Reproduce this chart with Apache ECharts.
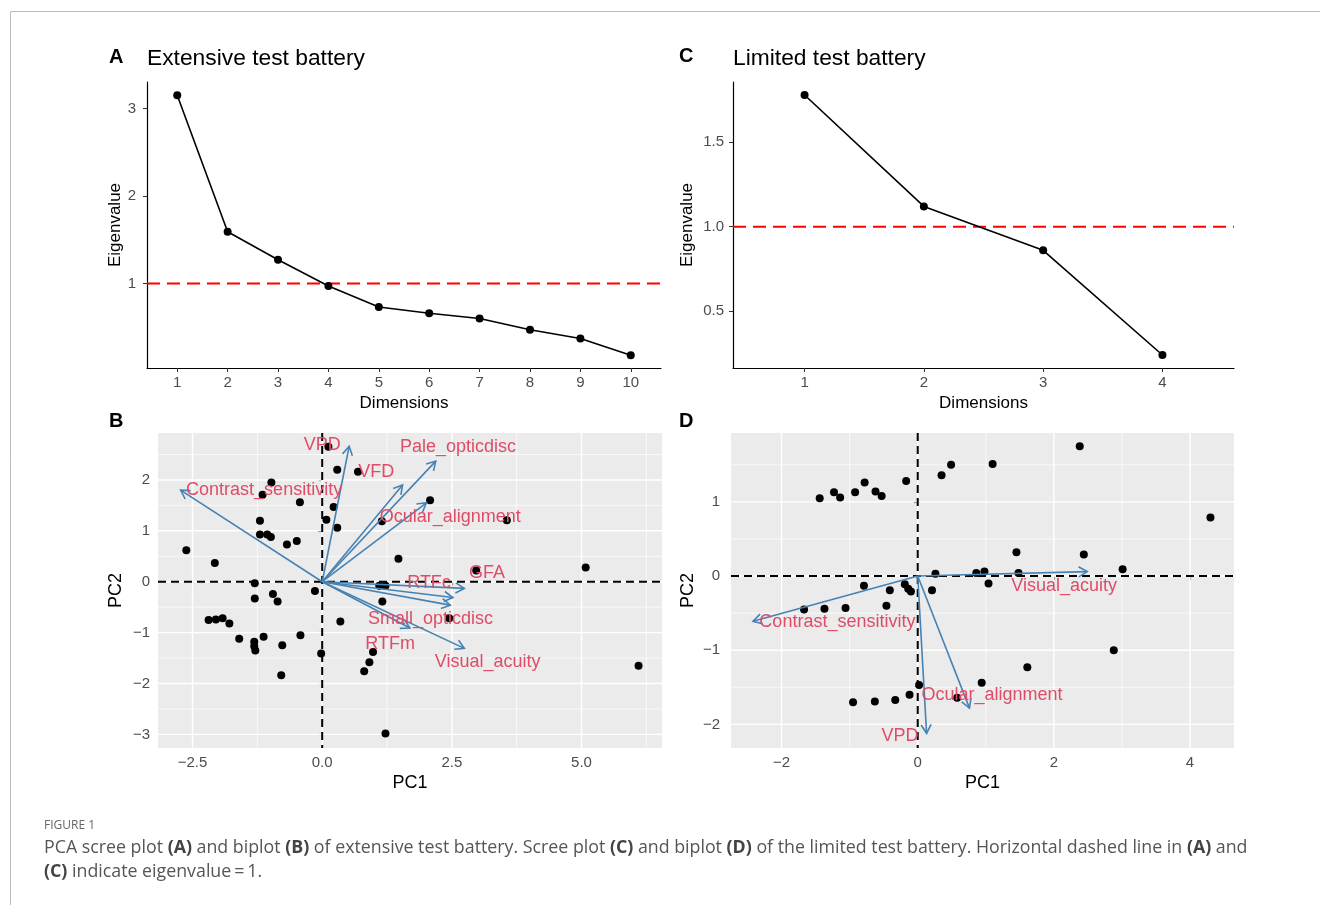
<!DOCTYPE html>
<html><head><meta charset="utf-8">
<script src="https://cdn.jsdelivr.net/npm/echarts@6/dist/echarts.min.js"></script>
<style>html,body{margin:0;padding:0;background:#fff}#c{width:1320px;height:905px}</style>
</head><body><div id="c"></div>
<script>
// ---------- Data ----------
const dimsA = [1,2,3,4,5,6,7,8,9,10];
const eigA  = [3.15,1.59,1.27,0.97,0.73,0.66,0.60,0.47,0.37,0.18];
const dimsC = [1,2,3,4];
const eigC  = [1.78,1.12,0.86,0.24];
const eigThreshold = 1;

const ticksAy = [1,2,3];
const ticksCy = [0.5,1.0,1.5];
const ticksBx = [-2.5,0,2.5,5];
const ticksBy = [-3,-2,-1,0,1,2];
const minorBx = [-1.25,1.25,3.75,6.25];
const minorBy = [-2.5,-1.5,-0.5,0.5,1.5,2.5];
const ticksDx = [-2,0,2,4];
const ticksDy = [-2,-1,0,1];
const minorDx = [-1,1,3];
const minorDy = [-1.5,-0.5,0.5,1.5];

// Biplot B individuals
const indBx = [0.12,0.29,0.69,-0.98,-1.15,-0.43,0.22,0.08,0.29,-1.20,-1.20,-1.06,-0.99,-0.68,-0.49,-2.62,-2.07,-1.30,-0.14,-0.95,-0.86,-1.30,-2.19,-2.05,-1.92,-1.79,-1.60,-1.31,-1.31,-1.29,-1.13,-0.42,-0.77,-0.79,0.35,-0.02,0.98,0.91,0.81,1.22,1.15,1.47,1.10,1.22,1.16,2.08,3.56,2.97,5.08,2.45,6.10];
const indBy = [2.65,2.20,2.16,1.95,1.71,1.56,1.47,1.22,1.06,1.20,0.93,0.93,0.88,0.73,0.80,0.62,0.37,-0.03,-0.18,-0.24,-0.39,-0.33,-0.75,-0.74,-0.72,-0.82,-1.12,-1.18,-1.27,-1.35,-1.08,-1.05,-1.25,-1.84,-0.78,-1.41,-1.38,-1.58,-1.76,-2.98,1.19,0.45,-0.08,-0.08,-0.39,1.60,1.21,0.22,0.28,-0.72,-1.65];
// Biplot B variables
const varB   = ['VPD','VFD','Pale_opticdisc','Ocular_alignment','Contrast_sensitivity','RTFc','GFA','Small_opticdisc','RTFm','Visual_acuity'];
const varBx  = [0.52,1.55,2.19,2.01,-2.73,2.74,2.52,2.47,1.69,2.74];
const varBy  = [2.66,1.90,2.37,1.55,1.80,-0.13,-0.31,-0.46,-0.91,-1.31];
const labBx  = [0.00,1.04,2.62,2.47,-1.12,2.06,3.18,2.09,1.31,3.19];
const labBy  = [2.68,2.15,2.64,1.27,1.80,-0.03,0.17,-0.73,-1.22,-1.58];

// Biplot D individuals
const indDx = [-1.44,-1.23,-1.14,-0.92,-0.78,-0.62,-0.53,-0.17,0.35,0.49,1.10,2.38,4.30,1.45,2.44,0.86,0.98,1.48,1.04,3.01,2.88,1.61,0.94,0.58,-1.67,-1.37,-1.06,-0.79,-0.41,-0.46,-0.19,-0.14,-0.10,0.21,0.26,-0.95,-0.63,-0.33,-0.12,0.02];
const indDy = [1.05,1.13,1.06,1.13,1.26,1.14,1.08,1.28,1.36,1.50,1.51,1.75,0.79,0.32,0.29,0.04,0.06,0.04,-0.10,0.09,-1.00,-1.23,-1.44,-1.64,-0.45,-0.44,-0.43,-0.13,-0.19,-0.40,-0.11,-0.17,-0.21,-0.19,0.03,-1.70,-1.69,-1.67,-1.60,-1.47];
// Biplot D variables
const varD  = ['Contrast_sensitivity','Visual_acuity','VPD','Ocular_alignment'];
const varDx = [-2.42,2.49,0.13,0.76];
const varDy = [-0.61,0.06,-2.12,-1.78];
const labDx = [-1.18,2.15,-0.26,1.09];
const labDy = [-0.62,-0.13,-2.15,-1.60];

// ---------- Helpers ----------
const FONT = 'Liberation Sans, Arial, sans-serif';
const LABEL_COL = '#DE4C68';
const ARROW_COL = '#4682B4';
const minus = s => String(s).replace('-', '\u2212');
const zip = (a,b) => a.map((v,i)=>[v,b[i]]);

function vLines(gi, vals, stroke, width, dash, z){
  return {type:'custom', xAxisIndex:gi, yAxisIndex:gi, z:z, silent:true, clip:false,
    data: vals.map(v=>[v,0]),
    renderItem:(p,api)=>{const cs=p.coordSys; const x=api.coord([api.value(0),0])[0];
      return {type:'line', shape:{x1:x,y1:cs.y,x2:x,y2:cs.y+cs.height}, style:{stroke, lineWidth:width, lineDash:dash||null}};}};
}
function hLines(gi, vals, stroke, width, dash, z){
  return {type:'custom', xAxisIndex:gi, yAxisIndex:gi, z:z, silent:true, clip:false,
    data: vals.map(v=>[0,v]),
    renderItem:(p,api)=>{const cs=p.coordSys; const y=api.coord([0,api.value(1)])[1];
      return {type:'line', shape:{x1:cs.x,y1:y,x2:cs.x+cs.width,y2:y}, style:{stroke, lineWidth:width, lineDash:dash||null}};}};
}
function arrows(gi, xs, ys){
  return {type:'custom', xAxisIndex:gi, yAxisIndex:gi, z:4, silent:true, clip:false,
    data: zip(xs,ys),
    renderItem:(p,api)=>{
      const p0=api.coord([0,0]); const p1=api.coord([api.value(0),api.value(1)]);
      const ang=Math.atan2(p1[1]-p0[1], p1[0]-p0[0]); const L=10, a=Math.PI/6;
      const h1=[p1[0]-L*Math.cos(ang-a), p1[1]-L*Math.sin(ang-a)];
      const h2=[p1[0]-L*Math.cos(ang+a), p1[1]-L*Math.sin(ang+a)];
      return {type:'group', children:[
        {type:'line', shape:{x1:p0[0],y1:p0[1],x2:p1[0],y2:p1[1]}, style:{stroke:ARROW_COL,lineWidth:1.6}},
        {type:'polyline', shape:{points:[h1,p1,h2]}, style:{stroke:ARROW_COL,lineWidth:1.6,fill:null}}]};
    }};
}
function labels(gi, xs, ys, names){
  return {type:'custom', xAxisIndex:gi, yAxisIndex:gi, z:5, silent:true, clip:false,
    data: zip(xs,ys),
    renderItem:(p,api)=>{const c=api.coord([api.value(0),api.value(1)]);
      return {type:'text', x:c[0], y:c[1], style:{text:names[p.dataIndex], fill:LABEL_COL, font:'18px '+FONT, align:'center', verticalAlign:'middle'}};}};
}
function points(gi, xs, ys, size){
  return {type:'scatter', xAxisIndex:gi, yAxisIndex:gi, z:3, data:zip(xs,ys), symbolSize:size,
    itemStyle:{color:'#000', opacity:1}, silent:true};
}

const screeX = (gi, min, max, ticks) => ({gridIndex:gi, type:'value', min, max,
  axisLine:{show:true, onZero:false, lineStyle:{color:'#000', width:1.2}},
  axisTick:{show:true, customValues:ticks, length:4, lineStyle:{color:'#333'}},
  axisLabel:{customValues:ticks, color:'#4D4D4D', fontSize:15, fontFamily:FONT, margin:7},
  splitLine:{show:false},
  name:'Dimensions', nameLocation:'middle', nameGap:27, nameTextStyle:{fontSize:17, color:'#000', fontFamily:FONT}});
const screeY = (gi, min, max, ticks, fmt, gap, margin) => ({gridIndex:gi, type:'value', min, max,
  axisLine:{show:true, onZero:false, lineStyle:{color:'#000', width:1.2}},
  axisTick:{show:true, customValues:ticks, length:4, lineStyle:{color:'#333'}},
  axisLabel:{customValues:ticks, color:'#4D4D4D', fontSize:15, fontFamily:FONT, margin, formatter:fmt},
  splitLine:{show:false},
  name:'Eigenvalue', nameLocation:'middle', nameGap:gap, nameTextStyle:{fontSize:17, color:'#000', fontFamily:FONT}});
const biAxis = (gi, min, max, ticks, fmt, name, gap, margin) => ({gridIndex:gi, type:'value', min, max,
  axisLine:{show:false},
  axisTick:{show:true, customValues:ticks, length:4, lineStyle:{color:'#333', width:1.1}},
  axisLabel:{customValues:ticks, color:'#4D4D4D', fontSize:15, fontFamily:FONT, margin, formatter:fmt},
  splitLine:{show:false},
  name, nameLocation:'middle', nameGap:gap, nameTextStyle:{fontSize:18, color:'#000', fontFamily:FONT}});

const capParts1 = [['PCA scree plot ',0],['(A)',1],[' and biplot ',0],['(B)',1],[' of extensive test battery. Scree plot ',0],['(C)',1],[' and biplot ',0],['(D)',1],[' of the limited test battery. Horizontal dashed line in ',0],['(A)',1],[' and',0]];
const capParts2 = [['(C)',1],[' indicate eigenvalue\u2009=\u20091.',0]];
const rich = parts => parts.map(([t,b])=>'{'+(b?'b':'n')+'|'+t+'}').join('');
const CAP_FONT = 'Open Sans, Noto Sans, sans-serif';
const capRich = {n:{fontSize:17.8, fontFamily:CAP_FONT, fill:'#555', color:'#555'}, b:{fontSize:17.8, fontFamily:CAP_FONT, fontWeight:'bold', fill:'#444', color:'#444'}};

const option = {
  animation:false,
  textStyle:{fontFamily:FONT},
  grid:[
    {left:147, top:82, width:514, height:286, outerBoundsMode:'none', containLabel:false},
    {left:733, top:82, width:501, height:286, outerBoundsMode:'none', containLabel:false},
    {left:158, top:433, width:504, height:315, show:true, backgroundColor:'#EBEBEB', borderWidth:0, outerBoundsMode:'none', containLabel:false},
    {left:731, top:433, width:503, height:315, show:true, backgroundColor:'#EBEBEB', borderWidth:0, outerBoundsMode:'none', containLabel:false}
  ],
  xAxis:[
    screeX(0, 0.4, 10.6, dimsA),
    screeX(1, 0.4, 4.6, dimsC),
    biAxis(2, -3.166, 6.552, ticksBx, v=>minus(v.toFixed(1)), 'PC1', 26, 7),
    biAxis(3, -2.743, 4.646, ticksDx, v=>minus(v), 'PC1', 26, 7)
  ],
  yAxis:[
    screeY(0, 0.0335, 3.3015, ticksAy, v=>String(v), 22, 11),
    screeY(1, 0.163, 1.857, ticksCy, v=>v.toFixed(1), 37, 9),
    biAxis(2, -3.267, 2.922, ticksBy, v=>minus(v), 'PC2', 33, 8),
    biAxis(3, -2.318, 1.928, ticksDy, v=>minus(v), 'PC2', 34, 11)
  ],
  series:[
    // A
    hLines(0, [eigThreshold], '#FF0000', 2, [13,7], 2),
    {type:'line', xAxisIndex:0, yAxisIndex:0, z:3, data:zip(dimsA,eigA), symbol:'circle', symbolSize:8,
      lineStyle:{color:'#000', width:1.6}, itemStyle:{color:'#000', opacity:1}, silent:true},
    // C
    hLines(1, [eigThreshold], '#FF0000', 2, [13,7], 2),
    {type:'line', xAxisIndex:1, yAxisIndex:1, z:3, data:zip(dimsC,eigC), symbol:'circle', symbolSize:8,
      lineStyle:{color:'#000', width:1.6}, itemStyle:{color:'#000', opacity:1}, silent:true},
    // B
    vLines(2, minorBx, '#FFFFFF', 0.7, null, 1),
    hLines(2, minorBy, '#FFFFFF', 0.7, null, 1),
    vLines(2, ticksBx, '#FFFFFF', 1.4, null, 1),
    hLines(2, ticksBy, '#FFFFFF', 1.4, null, 1),
    vLines(2, [0], '#000', 2, [8,5], 2),
    hLines(2, [0], '#000', 2, [8,5], 2),
    points(2, indBx, indBy, 8),
    arrows(2, varBx, varBy),
    labels(2, labBx, labBy, varB),
    // D
    vLines(3, minorDx, '#FFFFFF', 0.7, null, 1),
    hLines(3, minorDy, '#FFFFFF', 0.7, null, 1),
    vLines(3, ticksDx, '#FFFFFF', 1.4, null, 1),
    hLines(3, ticksDy, '#FFFFFF', 1.4, null, 1),
    vLines(3, [0], '#000', 2, [8,5], 2),
    hLines(3, [0], '#000', 2, [8,5], 2),
    points(3, indDx, indDy, 8),
    arrows(3, varDx, varDy),
    labels(3, labDx, labDy, varD)
  ],
  graphic:[
    {type:'rect', shape:{x:10.5, y:11.5, width:1400, height:1000}, style:{fill:null, stroke:'#BBBBBB', lineWidth:1}, silent:true},
    {type:'text', x:109, y:57, style:{text:'A', font:'bold 20px '+FONT, fill:'#000', verticalAlign:'middle'}},
    {type:'text', x:147, y:59, style:{text:'Extensive test battery', font:'22.8px '+FONT, fill:'#000', verticalAlign:'middle'}},
    {type:'text', x:679, y:56, style:{text:'C', font:'bold 20px '+FONT, fill:'#000', verticalAlign:'middle'}},
    {type:'text', x:733, y:59, style:{text:'Limited test battery', font:'22.8px '+FONT, fill:'#000', verticalAlign:'middle'}},
    {type:'text', x:109, y:421, style:{text:'B', font:'bold 20px '+FONT, fill:'#000', verticalAlign:'middle'}},
    {type:'text', x:679, y:421, style:{text:'D', font:'bold 20px '+FONT, fill:'#000', verticalAlign:'middle'}},
    {type:'text', x:44, y:826, style:{text:'FIGURE 1', font:'12px '+CAP_FONT, fill:'#666', verticalAlign:'middle'}},
    {type:'text', x:44, y:848, style:{text:rich(capParts1), rich:capRich, verticalAlign:'middle'}},
    {type:'text', x:44, y:872, style:{text:rich(capParts2), rich:capRich, verticalAlign:'middle'}}
  ]
};
const chart = echarts.init(document.getElementById('c'), null, {renderer:'canvas'});
chart.setOption(option);
</script></body></html>
